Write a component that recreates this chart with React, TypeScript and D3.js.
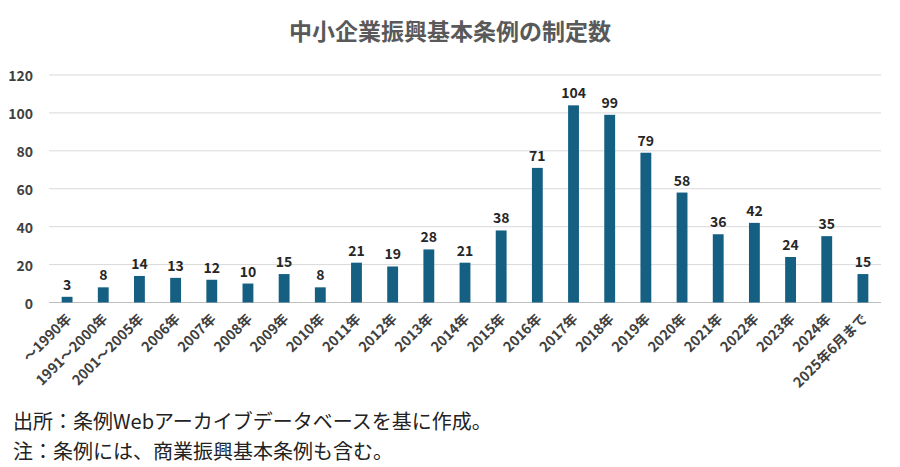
import React from "react";
import * as d3 from "d3";

const categories = ["〜1990年","1991〜2000年","2001〜2005年","2006年","2007年","2008年","2009年","2010年","2011年","2012年","2013年","2014年","2015年","2016年","2017年","2018年","2019年","2020年","2021年","2022年","2023年","2024年","2025年6月まで"];
const values = [3,8,14,13,12,10,15,8,21,19,28,21,38,71,104,99,79,58,36,42,24,35,15];
const yTicks = [0,20,40,60,80,100,120];
const title = "中小企業振興基本条例の制定数";
const notes = ["出所：条例Webアーカイブデータベースを基に作成。","注：条例には、商業振興基本条例も含む。"];

const W = 900, H = 467;
const FONT = "'Noto Sans CJK JP', 'Noto Sans', sans-serif";

export default function App() {
  const x = d3.scaleBand<string>().domain(categories).range([49, 881]).paddingInner(0.7).paddingOuter(0.35);
  const y = d3.scaleLinear().domain([0, 120]).range([302.5, 75]);
  return (
    <svg width={W} height={H} style={{ position: "absolute", left: 0, top: 0, background: "#fff" }} fontFamily={FONT}>
      <rect width={W} height={H} fill="#fff" />
      <text x={450} y={30} textAnchor="middle" dominantBaseline="central" fontSize={23} fontWeight={700} fill="#595959">{title}</text>
      {yTicks.map((t) => (
        <g key={t}>
          <line x1={49} x2={881} y1={y(t)} y2={y(t)} stroke={t === 0 ? "#bfbfbf" : "#d9d9d9"} strokeWidth={1} />
          <text x={33} y={y(t)} textAnchor="end" dominantBaseline="central" fontSize={14} fontWeight={700} fill="#404040">{t}</text>
        </g>
      ))}
      {categories.map((c, i) => {
        const bx = x(c)!;
        const cx = bx + x.bandwidth() / 2;
        return (
          <g key={c}>
            <rect x={bx} y={y(values[i])} width={x.bandwidth()} height={y(0) - y(values[i])} fill="#156082" />
            <text x={cx} y={y(values[i]) - 13} textAnchor="middle" dominantBaseline="central" fontSize={14} fontWeight={700} fill="#262626">{values[i]}</text>
            <text transform={`translate(${cx + 1},${y(0) + 13}) rotate(-45)`} textAnchor="end" dominantBaseline="central" fontSize={14} fontWeight={700} fill="#404040">{c}</text>
          </g>
        );
      })}
      {notes.map((n, i) => (
        <text key={i} x={13} y={420 + i * 30} dominantBaseline="central" fontSize={20} fill="#222">{n}</text>
      ))}
    </svg>
  );
}
